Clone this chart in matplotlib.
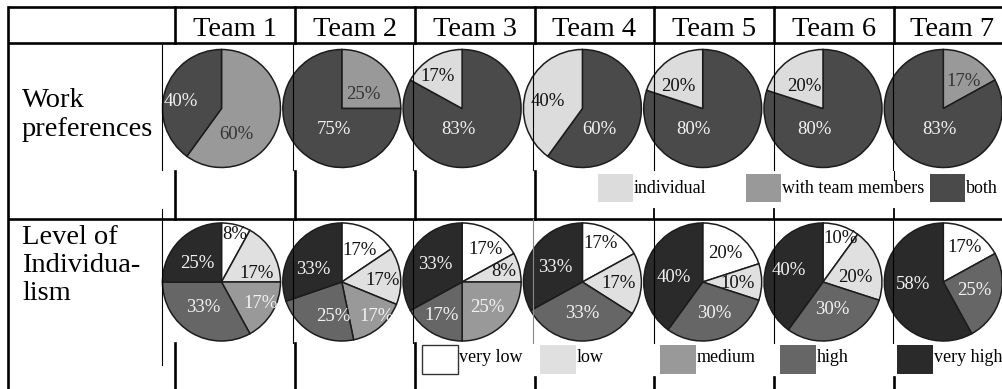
import matplotlib
matplotlib.use("Agg")
import matplotlib.pyplot as plt
from matplotlib.patches import Rectangle

# ---------------- data ----------------
teams = ["Team 1", "Team 2", "Team 3", "Team 4", "Team 5", "Team 6", "Team 7"]
row_titles = ["Work\npreferences", "Level of\nIndividua-\nlism"]

# Work preferences (%), drawn clockwise from 12 o'clock: with team members, both, individual
work_with_team = [60, 25, 0, 0, 0, 0, 17]
work_both = [40, 75, 83, 60, 80, 80, 83]
work_individual = [0, 0, 17, 40, 20, 20, 0]
work_legend = ["individual", "with team members", "both"]

# Level of individualism (%), drawn clockwise from 12 o'clock
ind_very_low = [8, 17, 17, 17, 20, 10, 17]
ind_low = [17, 17, 8, 17, 10, 20, 0]
ind_medium = [17, 17, 25, 0, 0, 0, 0]
ind_high = [33, 25, 17, 33, 30, 30, 25]
ind_very_high = [25, 33, 33, 33, 40, 40, 58]
ind_legend = ["very low", "low", "medium", "high", "very high"]

# ---------------- style / layout ----------------
plt.rcParams["font.family"] = ["Liberation Serif", "DejaVu Serif"]

C_IND = "#dcdcdc"
C_TEAM = "#999999"
C_BOTH = "#4a4a4a"
C_VLOW = "#ffffff"
C_LOW = "#e0e0e0"
C_MED = "#999999"
C_HIGH = "#666666"
C_VHIGH = "#2a2a2a"

work_colors = [C_TEAM, C_BOTH, C_IND]            # drawing order
work_txt = ["#333333", "#f2f2f2", "#111111"]
ind_colors = [C_VLOW, C_LOW, C_MED, C_HIGH, C_VHIGH]
ind_txt = ["#111111", "#111111", "#f2f2f2", "#f2f2f2", "#f2f2f2"]

W, H = 1003, 389
R = 59
X0, DX = 221.5, 120.3
Y_ROW = [108.5, 282]

# label anchors relative to pie centre (units of radius, y downward)
work_lbl = [
    [(0.25, 0.44), (-0.69, -0.12), None],
    [(0.37, -0.24), (-0.14, 0.36), None],
    [None, (-0.07, 0.36), (-0.41, -0.54)],
    [None, (0.29, 0.36), (-0.58, -0.12)],
    [None, (-0.15, 0.36), (-0.42, -0.37)],
    [None, (-0.15, 0.36), (-0.31, -0.37)],
    [(0.34, -0.46), (-0.07, 0.36), None],
]
ind_lbl = [
    [(0.22, -0.80), (0.59, -0.15), (0.66, 0.36), (-0.31, 0.44), (-0.41, -0.31)],
    [(0.31, -0.54), (0.69, -0.03), (0.59, 0.58), (-0.14, 0.58), (-0.49, -0.22)],
    [(0.39, -0.55), (0.71, -0.17), (0.42, 0.44), (-0.35, 0.56), (-0.45, -0.29)],
    [(0.31, -0.66), (0.61, 0.03), None, (0.0, 0.53), (-0.46, -0.24)],
    [(0.39, -0.49), (0.59, 0.03), None, (0.19, 0.53), (-0.49, -0.08)],
    [(0.29, -0.73), (0.54, -0.08), None, (0.15, 0.47), (-0.58, -0.19)],
    [(0.36, -0.59), None, None, (0.53, 0.14), (-0.51, 0.05)],
]

fig = plt.figure(figsize=(W / 100, H / 100), dpi=100)
ax = fig.add_axes([0, 0, 1, 1])


def draw_pie(vals, colors, txtcols, anchors, cx, cy):
    v = [x for x in vals if x > 0]
    c = [col for x, col in zip(vals, colors) if x > 0]
    ax.pie(v, colors=c, startangle=-90, counterclock=True, radius=R,
           center=(cx, cy), frame=False,
           wedgeprops=dict(edgecolor="#1c1c1c", linewidth=1.1))
    for val, tc, anc in zip(vals, txtcols, anchors):
        if val > 0 and anc is not None:
            ax.text(cx + anc[0] * R, cy + anc[1] * R, f"{val}%", color=tc,
                    fontsize=13.5, ha="center", va="center", zorder=6)


work_series = [work_with_team, work_both, work_individual]
ind_series = [ind_very_low, ind_low, ind_medium, ind_high, ind_very_high]

for i in range(len(teams)):
    cx = X0 + DX * i
    draw_pie([s[i] for s in work_series], work_colors, work_txt, work_lbl[i], cx, Y_ROW[0])
    draw_pie([s[i] for s in ind_series], ind_colors, ind_txt, ind_lbl[i], cx, Y_ROW[1])

ax.set_aspect("auto")
ax.set_xlim(0, W)
ax.set_ylim(H, 0)
ax.axis("off")

# ---------------- table lines ----------------
THICK = 1.9
THIN = 0.8
k = "#000000"
# horizontal
for y in (7, 43, 219):
    ax.plot([8, W], [y, y], color=k, lw=THICK, zorder=5, solid_capstyle="butt")
# outer left border
ax.plot([8.5, 8.5], [7, H], color=k, lw=THICK, zorder=5)
# header column separators
col_x = [175, 295, 415, 535, 654, 774, 894]
for x in col_x:
    ax.plot([x, x], [7, 43], color=k, lw=THICK, zorder=5)
# thin lines through the pie rows
thin_x = [162, 293, 413, 533, 654, 774, 893]
for x in thin_x:
    ax.plot([x, x], [43, 170], color=k, lw=THIN, zorder=5)
ax.plot([162, 162], [209, 365], color=k, lw=THIN, zorder=5)
for x in thin_x[1:]:
    col = "#888888" if x == 533 else k
    ax.plot([x, x], [219, 343], color=col, lw=THIN, zorder=5)
# thick segments in legend areas
for x in col_x[:4]:
    ax.plot([x, x], [171, 219], color=k, lw=THICK, zorder=5)
for x in col_x[4:]:
    ax.plot([x, x], [209, 219], color=k, lw=1.3, zorder=5)
ax.plot([894, 894], [171, 180], color=k, lw=THIN, zorder=5)
for x in col_x[:3]:
    ax.plot([x, x], [343, H], color=k, lw=THICK, zorder=5)
for x in col_x[3:]:
    ax.plot([x, x], [377, H], color=k, lw=THICK, zorder=5)

# ---------------- header and row titles ----------------
for i, t in enumerate(teams):
    left = col_x[i]
    right = col_x[i + 1] if i + 1 < len(col_x) else 1011
    ax.text((left + right) / 2, 36, t, fontsize=20.5, ha="center", va="baseline", zorder=6)

ax.text(22, 88, row_titles[0], fontsize=20.5, ha="left", va="top",
        linespacing=1.2, zorder=6)
ax.text(22, 225, row_titles[1], fontsize=20.5, ha="left", va="top",
        linespacing=1.15, zorder=6)

# ---------------- legends ----------------
work_leg_colors = [C_IND, C_TEAM, C_BOTH]
work_leg_x = [598, 746, 930]
for lab, col, x in zip(work_legend, work_leg_colors, work_leg_x):
    ax.add_patch(Rectangle((x, 174), 35, 28, facecolor=col, edgecolor="none", zorder=4))
    ax.text(x + 36, 188, lab, fontsize=13, ha="left", va="center", zorder=6)

ind_leg_x = [422, 540, 660, 780, 897]
for lab, col, x in zip(ind_legend, ind_colors, ind_leg_x):
    ax.add_patch(Rectangle((x, 345), 36, 29, facecolor=col,
                           edgecolor="#333333" if col == C_VLOW else "none",
                           lw=1.0, zorder=4))
    ax.text(x + 37, 358, lab, fontsize=13, ha="left", va="center", zorder=6)

fig.savefig("out.png", dpi=100)
